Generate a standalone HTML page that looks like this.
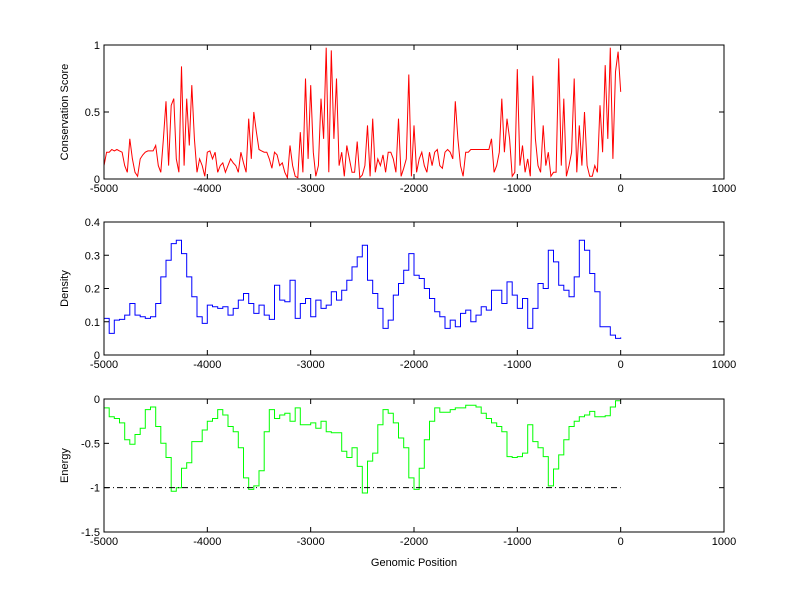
<!DOCTYPE html>
<html><head><meta charset="utf-8"><style>
html,body{margin:0;padding:0;background:#fff;}
svg{display:block;font-family:"Liberation Sans",Arial,sans-serif;font-size:11px;}
</style></head><body>
<svg id="fig" width="800" height="599" viewBox="0 0 800 599"></svg>
<script>
const conservation=[0.1,0.2,0.2,0.22,0.21,0.22,0.21,0.2,0.1,0.05,0.3,0.15,0.05,0.02,0.15,0.18,0.2,0.21,0.21,0.21,0.25,0.1,0.05,0.3,0.58,0.1,0.55,0.6,0.15,0.05,0.84,0.1,0.6,0.25,0.7,0.3,0.05,0.15,0.1,0.02,0.2,0.21,0.15,0.2,0.05,0.1,0.12,0.05,0.1,0.15,0.12,0.1,0.05,0.2,0.12,0.05,0.45,0.15,0.5,0.35,0.22,0.21,0.2,0.2,0.15,0.08,0.2,0.18,0.1,0.12,0.05,0.01,0.25,0.1,0.02,0.01,0.35,0.05,0.75,0.15,0.7,0.2,0.02,0.1,0.6,0.3,0.98,0.05,0.96,0.3,0.75,0.1,0.2,0.02,0.25,0.15,0.05,0.05,0.28,0.01,0.03,0.1,0.4,0.02,0.45,0.05,0.15,0.1,0.18,0.05,0.2,0.2,0.15,0.05,0.45,0.02,0.08,0.15,0.78,0.02,0.4,0.05,0.15,0.2,0.1,0.05,0.2,0.1,0.2,0.22,0.1,0.08,0.2,0.22,0.2,0.15,0.58,0.3,0.1,0.02,0.2,0.2,0.22,0.22,0.22,0.22,0.22,0.22,0.22,0.22,0.3,0.05,0.1,0.2,0.6,0.2,0.45,0.3,0.02,0.05,0.82,0.1,0.25,0.05,0.15,0.02,0.77,0.3,0.1,0.05,0.4,0.1,0.2,0.02,0.05,0.05,0.9,0.1,0.6,0.02,0.1,0.2,0.75,0.05,0.4,0.1,0.5,0.1,0.02,0.02,0.1,0.05,0.55,0.2,0.85,0.3,0.98,0.15,0.8,0.95,0.65];
const density=[0.11,0.065,0.105,0.107,0.12,0.155,0.12,0.115,0.11,0.115,0.155,0.235,0.285,0.335,0.345,0.305,0.235,0.175,0.115,0.095,0.15,0.145,0.14,0.145,0.12,0.14,0.165,0.185,0.155,0.125,0.15,0.12,0.107,0.21,0.165,0.16,0.225,0.11,0.155,0.17,0.115,0.165,0.14,0.15,0.19,0.165,0.195,0.225,0.265,0.295,0.33,0.225,0.185,0.14,0.08,0.105,0.18,0.215,0.255,0.305,0.24,0.23,0.2,0.17,0.13,0.115,0.08,0.105,0.085,0.125,0.135,0.1,0.12,0.145,0.135,0.195,0.195,0.155,0.22,0.18,0.14,0.17,0.08,0.14,0.215,0.2,0.315,0.28,0.21,0.195,0.175,0.235,0.345,0.315,0.245,0.19,0.085,0.085,0.06,0.05,0.053];
const energy=[-0.1,-0.2,-0.22,-0.27,-0.46,-0.51,-0.4,-0.33,-0.12,-0.09,-0.31,-0.5,-0.66,-1.04,-1.0,-0.78,-0.72,-0.48,-0.48,-0.35,-0.25,-0.22,-0.12,-0.18,-0.31,-0.37,-0.55,-0.89,-1.02,-0.98,-0.81,-0.37,-0.12,-0.22,-0.18,-0.16,-0.25,-0.1,-0.29,-0.29,-0.27,-0.33,-0.25,-0.37,-0.38,-0.38,-0.59,-0.66,-0.55,-0.76,-1.06,-0.7,-0.61,-0.29,-0.12,-0.16,-0.27,-0.44,-0.55,-0.89,-1.02,-0.78,-0.46,-0.25,-0.1,-0.15,-0.15,-0.12,-0.1,-0.1,-0.07,-0.07,-0.09,-0.16,-0.22,-0.27,-0.31,-0.37,-0.65,-0.66,-0.65,-0.61,-0.29,-0.48,-0.55,-0.65,-0.98,-0.79,-0.63,-0.46,-0.31,-0.25,-0.2,-0.18,-0.14,-0.2,-0.2,-0.19,-0.09,-0.02,-0.02];
const xStart=-5000, xStep=50, consStep=25;
const xTicks=[-5000,-4000,-3000,-2000,-1000,0,1000];
const yTicks1=[0,0.5,1], yTicks2=[0,0.1,0.2,0.3,0.4], yTicks3=[-1.5,-1,-0.5,0];
const thresh=-1;

const NS='http://www.w3.org/2000/svg';
const svg=document.getElementById('fig');
function el(tag,attrs,parent){const e=document.createElementNS(NS,tag);for(const k in attrs)e.setAttribute(k,attrs[k]);(parent||svg).appendChild(e);return e;}
const L=104,R=724;
const xs=v=>L+(v+5000)/6000*(R-L);
const panels=[
 {name:'conservation',top:45,bot:179,min:0,max:1,ticks:yTicks1,data:conservation,step:consStep,color:'#ff0000',label:'Conservation Score',lx:68,stair:false},
 {name:'density',top:222,bot:355,min:0,max:0.4,ticks:yTicks2,data:density,step:xStep,color:'#0000ff',label:'Density',lx:68,stair:true},
 {name:'energy',top:399,bot:532,min:-1.5,max:0,ticks:yTicks3,data:energy,step:xStep,color:'#00ff00',label:'Energy',lx:68,stair:true}
];
panels.forEach((p,pi)=>{
 const g=el('g',{});
 
 
 const ys=v=>p.bot-(v-p.min)/(p.max-p.min)*(p.bot-p.top);
 let d='';
 p.data.forEach((v,i)=>{const x=xs(xStart+i*p.step).toFixed(1),y=ys(v).toFixed(1);
  if(i===0)d+='M'+x+','+y;else if(p.stair)d+=' H'+x+' V'+y;else d+=' L'+x+','+y;});
 const line=el('path',{d:d,fill:'none',stroke:p.color,'stroke-width':1},g);
 
 
 if(pi===2){
  const t=el('line',{x1:xs(-5000),x2:xs(0),y1:ys(thresh),y2:ys(thresh),stroke:'#000','stroke-width':1,'stroke-dasharray':'6,3,1,3'},g);
  
  
 }
 const box=el('rect',{x:L,y:p.top,width:R-L,height:p.bot-p.top,fill:'none',stroke:'#000','stroke-width':1},g);
 
 
 xTicks.forEach(v=>{const x=xs(v);
  el('line',{x1:x,x2:x,y1:p.bot,y2:p.bot-5,stroke:'#000'},g);
  el('line',{x1:x,x2:x,y1:p.top,y2:p.top+5,stroke:'#000'},g);
  const t=el('text',{x:x,y:p.bot+13,'text-anchor':'middle'},g);t.textContent=v;
  
  });
 p.ticks.forEach(v=>{const y=ys(v);
  el('line',{x1:L,x2:L+5,y1:y,y2:y,stroke:'#000'},g);
  el('line',{x1:R,x2:R-5,y1:y,y2:y,stroke:'#000'},g);
  const t=el('text',{x:L-4,y:y+4,'text-anchor':'end'},g);t.textContent=v;
  
  });
 const cy=(p.top+p.bot)/2;
 const yl=el('text',{x:p.lx,y:cy,'text-anchor':'middle',transform:'rotate(-90 '+p.lx+' '+cy+')'},g);
 yl.textContent=p.label;
 
 
});
const xl=el('text',{x:414,y:566,'text-anchor':'middle'});
xl.textContent='Genomic Position';


</script>
</body></html>
